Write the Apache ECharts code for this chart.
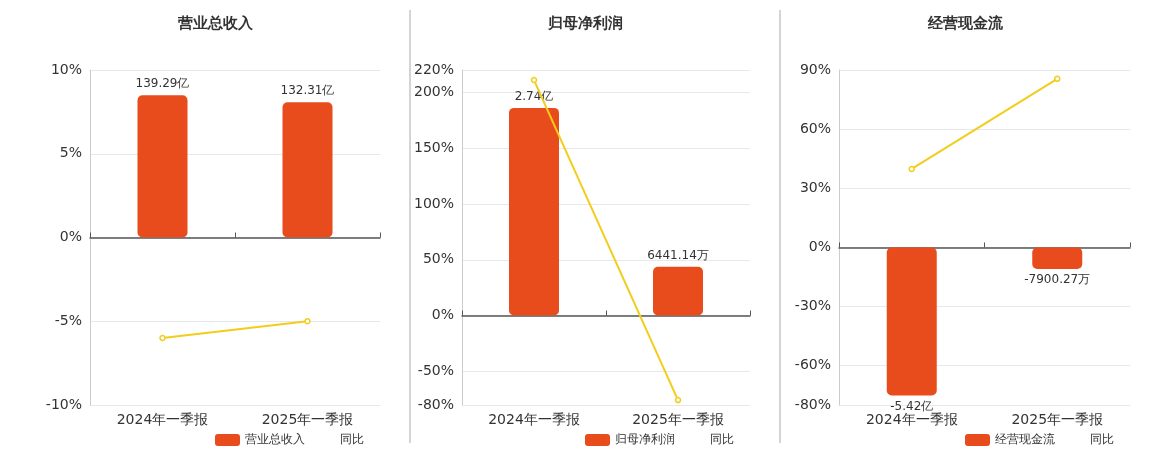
<!DOCTYPE html>
<html>
<head>
<meta charset="utf-8">
<script src="https://cdn.jsdelivr.net/npm/echarts@6/dist/echarts.min.js"></script>
<style>
html, body { margin: 0; padding: 0; background: #fff; }
#chart { width: 1160px; height: 450px; }
</style>
</head>
<body>
<div id="chart"></div>
<script>
// 数据
var periods = ["2024年一季报", "2025年一季报"];
var titles = ["营业总收入", "归母净利润", "经营现金流"];
var revenue = [139.29, 132.31];        // 亿
var revenueYoy = [-6.0, -5.0];
var profit = [2.74, 0.644114];         // 亿
var profitYoy = [211, -75.6];
var cashflow = [-5.42, -0.790027];     // 亿
var cashflowYoy = [39.8, 85.5];
var barLabels = [["139.29亿", "132.31亿"], ["2.74亿", "6441.14万"], ["-5.42亿", "-7900.27万"]];
var pctTicks = [
	[-10, -5, 0, 5, 10],
	[-80, -50, 0, 50, 100, 150, 200, 220],
	[-80, -60, -30, 0, 30, 60, 90]
];
var pctRange = [[-10, 10], [-80, 220], [-80, 90]];
var barRange = [[-164, 164], [-1.18, 3.24], [-5.77, 6.5]];

var barColor = "#e84b1c";
var lineColor = "#f2cd1b";
var grids = [
	{ left: 90, width: 290, top: 70, bottom: 45 },
	{ left: 462, width: 288, top: 70, bottom: 45 },
	{ left: 839, width: 291, top: 70, bottom: 45 }
];
var centers = [210, 580, 960];

var option = {
	animation: false,
	textStyle: { fontFamily: "DejaVu Sans" },
	title: [], legend: [], grid: grids, xAxis: [], yAxis: [], series: [],
	graphic: [
		{ type: "line", shape: { x1: 410, y1: 10, x2: 410, y2: 443 }, style: { stroke: "#aaa", lineWidth: 1 } },
		{ type: "line", shape: { x1: 780, y1: 10, x2: 780, y2: 443 }, style: { stroke: "#aaa", lineWidth: 1 } }
	]
};

var barData = [revenue, profit, cashflow];
var yoyData = [revenueYoy, profitYoy, cashflowYoy];

for (var i = 0; i < 3; i++) {
	option.title.push({
		text: titles[i], left: centers[i], top: 12, textAlign: "center",
		textStyle: { fontSize: 15, fontWeight: "bold", color: "#333" }
	});
	option.legend.push({
		left: centers[i], top: 428, textAlign: "center",
		itemWidth: 25, itemHeight: 12, itemGap: 10,
		textStyle: { fontSize: 12, color: "#333" },
		data: [
			{ name: titles[i] },
			{ name: "同比" + i, icon: "emptyCircle" }
		],
		formatter: function (n) { return n.indexOf("同比") === 0 ? "同比" : n; }
	});
	// 底部类目标签
	option.xAxis.push({
		type: "category", gridIndex: i, data: periods, position: "bottom",
		axisLine: { show: false }, axisTick: { show: false },
		axisLabel: { fontSize: 14, color: "#333", margin: 8 }
	});
	// 零位置的轴线
	option.xAxis.push({
		type: "category", gridIndex: i, data: periods,
		axisLine: { onZero: true, lineStyle: { color: "#555", width: 1.5 } },
		axisTick: { show: true, lineStyle: { color: "#555" } },
		axisLabel: { show: false }
	});
	option.yAxis.push({
		type: "value", gridIndex: i, min: pctRange[i][0], max: pctRange[i][1],
		axisLine: { show: true, lineStyle: { color: "#ccc" } },
		axisTick: { show: false },
		axisLabel: { fontSize: 14, color: "#333", customValues: pctTicks[i], formatter: "{value}%" },
		splitLine: { lineStyle: { color: "#e6e8ee" } }
	});
	option.yAxis.push({
		type: "value", gridIndex: i, min: barRange[i][0], max: barRange[i][1], show: false,
		splitLine: { show: false }
	});
	(function (idx) {
		option.series.push({
			name: titles[idx], type: "bar", xAxisIndex: idx * 2, yAxisIndex: idx * 2 + 1,
			data: barData[idx], barWidth: 50, itemStyle: { color: barColor, borderRadius: 5 },
			label: {
				show: true, position: "outside", fontSize: 12, color: "#333",
				formatter: function (p) { return barLabels[idx][p.dataIndex]; }
			}
		});
	})(i);
	option.series.push({
		name: "同比" + i, type: "line", xAxisIndex: i * 2, yAxisIndex: i * 2,
		data: yoyData[i], symbol: "circle", symbolSize: 5,
		lineStyle: { color: lineColor, width: 2 },
		itemStyle: { color: "#fff", borderColor: lineColor, borderWidth: 1.5 }
	});
}

var chart = echarts.init(document.getElementById("chart"));
chart.setOption(option);
</script>
</body>
</html>
